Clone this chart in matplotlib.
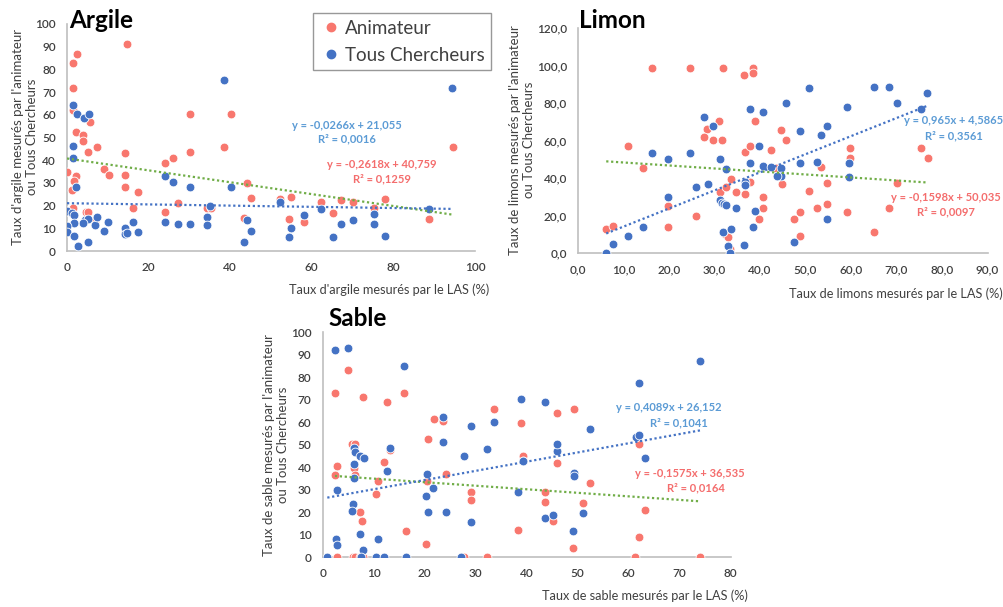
import matplotlib
matplotlib.use("Agg")
import matplotlib.pyplot as plt
from matplotlib.lines import Line2D
import numpy as np

plt.rcParams['font.family'] = ['Lato', 'DejaVu Sans']

# ---------------- DATA ----------------
# Argile
argile_anim_x = [1.4, 2.5, 14.7, 1.4, 1.4, 5.6, 2.2, 4.0, 4.0, 7.3, 30.2, 40.2, 38.6, 5.2, 0.1, 2.2, 1.7, 1.2,
                 9.1, 10.2, 14.3, 14.3, 14.3, 17.5, 16.1, 24.1, 26.1, 30.2, 44.1, 45.2, 0.0, 1.4, 4.7, 5.2, 6.9,
                 24.1, 27.2, 34.2, 35.3, 43.3, 52.3, 55.0, 54.4, 58.2, 62.3, 65.3, 67.2, 70.2, 75.3, 78.0, 88.8, 94.5]
argile_anim_y = [83, 87, 91, 72, 62, 57, 52.5, 51, 48.5, 46, 60.5, 60.5, 46, 43.5, 34.7, 33, 31, 27,
                 36, 33.5, 43, 33.5, 28, 26, 19, 38.6, 41, 43.7, 29.8, 23.2, 17.5, 19, 17, 17, 13,
                 17, 21, 19.1, 18.8, 14.7, 22.9, 23.6, 14.1, 12.6, 21.7, 16.9, 22.5, 21.7, 18.8, 22.9, 14.1, 45.7]
argile_tous_x = [1.4, 2.4, 4.2, 5.5, 1.4, 1.4, 2.2, 38.6, 24.1, 26.1, 30.2, 40.2, 0.0, 1.2, 1.7, 4.4, 5.2, 4.0,
                 1.7, 0.1, 0.1, 1.7, 2.6, 5.2, 6.9, 7.3, 9.1, 10.1, 14.3, 14.3, 14.8, 16.1, 17.5, 24.1, 27.2,
                 30.2, 35.1, 34.2, 34.2, 44.1, 43.3, 45.2, 52.3, 55.0, 54.4, 58.2, 62.3, 65.3, 67.2, 70.2,
                 75.3, 75.3, 78.0, 88.8, 94.4]
argile_tous_y = [64.5, 60.5, 58.5, 60.5, 46.4, 41, 28, 75.3, 33, 30.3, 28, 28.3, 17.5, 16.6, 15.9, 13.7, 14, 12.5,
                 12.2, 11, 8.5, 6.6, 2.2, 4.1, 11.5, 15.1, 8.8, 12.9, 10, 7.4, 7.8, 12.9, 8.5, 12.9, 11.8,
                 11.9, 20, 14.8, 11.5, 13.7, 3.8, 8.8, 21.7, 10, 6, 15.9, 18.5, 6, 11.8, 13.7,
                 16.3, 11.8, 6.6, 18.5, 72]
argile_anim_fit = (-0.2618, 40.759, 0.1259)
argile_tous_fit = (-0.0266, 21.055, 0.0016)

# Limon
limon_anim_x = [16.2, 24.6, 31.8, 36.5, 38.4, 38.4, 10.9, 28.4, 31.0, 27.8, 29.6, 31.6, 36.7, 37.8, 38.9, 44.6,
                45.7, 42.4, 59.8, 75.4, 76.9, 59.8, 6.2, 7.8, 14.2, 19.7, 19.7, 25.9, 31.2, 32.5, 33.7, 32.3,
                33.0, 33.4, 34.7, 36.7, 37.8, 40.7, 40.7, 39.8, 43.5, 44.8, 53.5, 54.8, 50.8, 48.8, 47.5, 52.6,
                54.7, 48.8, 59.1, 70.0, 68.4, 65.1]
limon_anim_y = [99, 99, 99, 95, 98.7, 96.3, 57.2, 66.1, 70.6, 61.9, 60.4, 60.4, 54.2, 57, 70.7, 65.6,
                60.4, 55.1, 56.2, 56.2, 50.7, 50.7, 12.8, 14.6, 45.3, 25.2, 13.9, 20.1, 32.9, 35.2, 39.5, 10.3,
                8.9, 2.5, 32.5, 31.5, 38.2, 29.9, 24, 18.1, 45.3, 36.8, 46.2, 37.3, 33.1, 22.2, 18.1, 24,
                26.1, 9.2, 22.2, 37.3, 24, 11.5]
limon_tous_x = [27.8, 29.6, 16.2, 19.7, 24.6, 31.2, 37.8, 40.7, 45.7, 50.8, 65.1, 68.4, 70.0, 76.8, 75.4, 59.1,
                48.8, 54.8, 53.5, 39.8, 6.2, 7.8, 10.9, 14.2, 19.7, 25.9, 28.5, 31.1, 31.6, 32.1, 32.6, 32.5,
                31.8, 33.7, 32.9, 33.4, 34.7, 36.7, 36.7, 36.5, 37.8, 38.9, 38.4, 40.6, 42.4, 44.6, 44.6, 43.7,
                48.8, 52.6, 54.7, 47.5, 59.6, 59.6]
limon_tous_y = [72.9, 67.9, 53.7, 50.5, 53.3, 50.5, 76.8, 75.2, 80.3, 88.2, 88.9, 88.5, 80.3, 85.3, 77.1, 78.2,
                65.2, 68.1, 63.3, 57.4, 0, 5, 9.1, 13.9, 30.2, 35.2, 36.8, 28.4, 27, 26.2, 25.5, 44.8,
                11.5, 13, 3.9, 0, 24, 37.8, 36.4, 4.4, 48.3, 22.7, 13.9, 46.6, 45.9, 45.3, 41.4, 41.4,
                48.3, 48.9, 18.1, 6.2, 48.3, 40.5]
limon_anim_fit = (-0.1598, 50.035, 0.0097)
limon_tous_fit = (0.965, 4.5865, 0.3561)

# Sable
sable_anim_x = [5.0, 2.5, 8.0, 12.7, 15.9, 21.8, 23.5, 20.7, 33.6, 5.7, 6.3, 13.1, 2.9, 2.4, 6.2, 6.3, 12.0,
                10.8, 10.5, 7.3, 7.8, 2.9, 5.9, 6.3, 7.3, 8.0, 27.8, 32.2, 16.3, 20.3, 20.4, 24.1, 29.0, 29.0,
                39.3, 45.9, 52.4, 63.1, 62.1, 43.6, 43.6, 51.0, 45.1, 38.2, 49.1, 61.2, 74.0, 38.9, 45.9,
                49.3, 62.1]
sable_anim_y = [83.1, 73.2, 71.4, 69.2, 73.2, 61.5, 60.6, 52.4, 65.9, 50.4, 50.4, 47.6, 40.6, 36.6, 39.6, 36.6, 42.2,
                34, 28.1, 20, 16.1, 0, 0, 0, 0, 0, 0, 0, 11.7, 5.8, 34, 37, 28.9, 25.3,
                45.2, 41.8, 32.9, 21, 8.9, 29.2, 24.4, 24, 16.3, 12.1, 4, 0, 0, 59.8, 64,
                65.8, 50.2]
sable_tous_x = [2.5, 5.0, 15.9, 23.5, 23.5, 29.1, 33.6, 32.3, 27.8, 6.2, 6.3, 7.3, 8.1, 13.1, 2.9, 6.2, 12.7,
                6.2, 5.9, 5.7, 7.3, 2.6, 2.9, 8.0, 10.8, 0.9, 7.6, 10.5, 12.0, 16.3, 27.1, 20.4, 20.3, 21.7,
                20.7, 24.1, 29.0, 39.3, 45.9, 45.9, 49.3, 49.3, 63.1, 38.2, 51.0, 43.6, 45.1, 49.1, 74.0,
                62.1, 38.9, 43.6, 52.4, 61.4, 62.1, 39.2]
sable_tous_y = [92.1, 93.2, 85, 62.5, 51.1, 58.2, 60.3, 48.3, 45, 48.7, 46.9, 45.2, 44.3, 48.7, 29.9, 41.5, 38.5,
                35.1, 23.7, 20.6, 10.2, 8, 5.5, 3.2, 8.1, 0, 0, 0, 0, 0, 0, 37, 27.2, 30.6,
                20, 20, 15.8, 42.8, 47.2, 50.2, 37.3, 36.1, 44, 29.2, 19.6, 17.6, 18.8, 11.7, 87.2,
                77.3, 70.2, 68.9, 56.9, 53.6, 54.4, 43]
sable_anim_fit = (-0.1575, 36.535, 0.0164)
sable_tous_fit = (0.4089, 26.152, 0.1041)

series_names = ["Animateur", "Tous Chercheurs"]

# ---------------- STYLE ----------------
RED = "#F8776E"
BLUE = "#4472C4"
RED_TXT = "#F46D6D"
BLUE_TXT = "#5B9BD5"
GREEN = "#70AD47"
AXC = "#BFBFBF"
TXT = "#404040"

W, H = 1004, 607
fig = plt.figure(figsize=(W / 100, H / 100), dpi=100)


def fmt_num(v, nd):
    return f"{v:.{nd}f}".replace(".", ",")


def eq_text(fit, nd_a, nd_b):
    a, b, r2 = fit
    sa = fmt_num(a, nd_a)
    return f"y = {sa}x + {fmt_num(b, nd_b)}", f"R² = {fmt_num(r2, 4)}"


def panel(rect, xa, ya, xb, yb, fit_a, fit_b, xlim, ylim, xstep, ystep, tick_fmt,
          title, title_pos, ylabel, ylabel_pos, xlabel, xlabel_pos, eq_a_pos, eq_b_pos, nds_a, nds_b):
    ax = fig.add_axes(rect)
    ax.scatter(xa, ya, s=40, color=RED, edgecolors="white", linewidths=0.6, zorder=3)
    ax.scatter(xb, yb, s=40, color=BLUE, edgecolors="white", linewidths=0.6, zorder=4)
    # trend lines
    for xs, fit, col in [(xa, fit_a, GREEN), (xb, fit_b, BLUE)]:
        x0, x1 = min(xs), max(xs)
        xx = np.array([x0, x1])
        ax.plot(xx, fit[0] * xx + fit[1], linestyle=(0, (1, 1.2)), color=col, lw=1.6, zorder=5)
    ax.set_xlim(*xlim)
    ax.set_ylim(*ylim)
    ax.set_xticks(np.arange(xlim[0], xlim[1] + 0.01, xstep))
    ax.set_yticks(np.arange(ylim[0], ylim[1] + 0.01, ystep))
    ax.set_xticklabels([tick_fmt(v) for v in ax.get_xticks()])
    ax.set_yticklabels([tick_fmt(v) for v in ax.get_yticks()])
    for s in ["top", "right"]:
        ax.spines[s].set_visible(False)
    for s in ["left", "bottom"]:
        ax.spines[s].set_color(AXC)
        ax.spines[s].set_linewidth(1.2)
    ax.tick_params(length=0, labelsize=8.5, colors=TXT, pad=8)
    for lab in ax.get_xticklabels() + ax.get_yticklabels():
        lab.set_fontweight("semibold")
    fig.text(ylabel_pos[0] / W, 1 - ylabel_pos[1] / H, ylabel, rotation=90, ha="center", va="center",
             fontsize=9.5, color=TXT, linespacing=1.15, multialignment="center")
    fig.text(xlabel_pos[0] / W, 1 - xlabel_pos[1] / H, xlabel, ha="center", va="center",
             fontsize=9.2, color=TXT)
    fig.text(title_pos[0] / W, 1 - title_pos[1] / H, title, fontsize=17.5, fontweight="bold",
             ha="left", va="center", color="black")
    la1, la2 = eq_text(fit_a, *nds_a)
    lb1, lb2 = eq_text(fit_b, *nds_b)
    for (p, l1, l2, c) in [(eq_a_pos, la1, la2, RED_TXT), (eq_b_pos, lb1, lb2, BLUE_TXT)]:
        ax.text(p[0], p[1], l1, ha="center", va="center", fontsize=8, fontweight="bold", color=c)
        ax.text(p[2], p[3], l2, ha="center", va="center", fontsize=8, fontweight="bold", color=c)
    return ax


int_fmt = lambda v: f"{int(round(v))}"
dec_fmt = lambda v: fmt_num(v, 1)

# Argile
panel([67 / W, 1 - 251 / H, 408 / W, 227 / H],
      argile_anim_x, argile_anim_y, argile_tous_x, argile_tous_y, argile_anim_fit, argile_tous_fit,
      (0, 100), (0, 100), 20, 10, int_fmt,
      "Argile", (69, 20),
      "Taux d'argile mesurés par l'animateur\nou Tous Chercheurs", (25, 137),
      "Taux d'argile mesurés par le LAS (%)", (389, 290),
      (77.1, 38.3, 77.1, 31.6), (68.6, 55.5, 68.6, 49.2), (4, 3), (4, 3))

# Limon
panel([578 / W, 1 - 253.3 / H, 409.5 / W, 225 / H],
      limon_anim_x, limon_anim_y, limon_tous_x, limon_tous_y, limon_anim_fit, limon_tous_fit,
      (0, 90), (0, 120), 10, 20, dec_fmt,
      "Limon", (579, 21),
      "Taux de limons mesurés par l'animateur\nou Tous Chercheurs", (522, 140),
      "Taux de limons mesurés par le LAS (%)", (896, 294),
      (80.8, 29.7, 80.8, 22.2), (82.6, 70.7, 82.6, 62.6), (4, 3), (3, 4))

# Sable
panel([322.7 / W, 1 - 557.3 / H, 408 / W, 225 / H],
      sable_anim_x, sable_anim_y, sable_tous_x, sable_tous_y, sable_anim_fit, sable_tous_fit,
      (0, 80), (0, 100), 10, 10, int_fmt,
      "Sable", (328, 319),
      "Taux de sable mesurés par l'animateur\nou Tous Chercheurs", (276, 445),
      "Taux de sable mesurés par le LAS (%)", (645, 596),
      (72.0, 37.3, 73.2, 30.7), (67.8, 66.5, 69.9, 59.6), (4, 3), (4, 3))

# Legend
handles = [Line2D([], [], marker="o", linestyle="", color=RED, markersize=6),
           Line2D([], [], marker="o", linestyle="", color=BLUE, markersize=6)]
leg = fig.legend(handles, series_names, loc="upper left", bbox_to_anchor=(313 / W, 1 - 13 / H),
                 frameon=True, fancybox=False, fontsize=13.5, handletextpad=0.15, handlelength=1.2,
                 borderpad=0.35, labelspacing=0.55, borderaxespad=0)
leg.get_frame().set_edgecolor("#7F7F7F")
leg.get_frame().set_linewidth(1.0)
for t in leg.get_texts():
    t.set_color(TXT)

fig.savefig("out.png", dpi=100)
